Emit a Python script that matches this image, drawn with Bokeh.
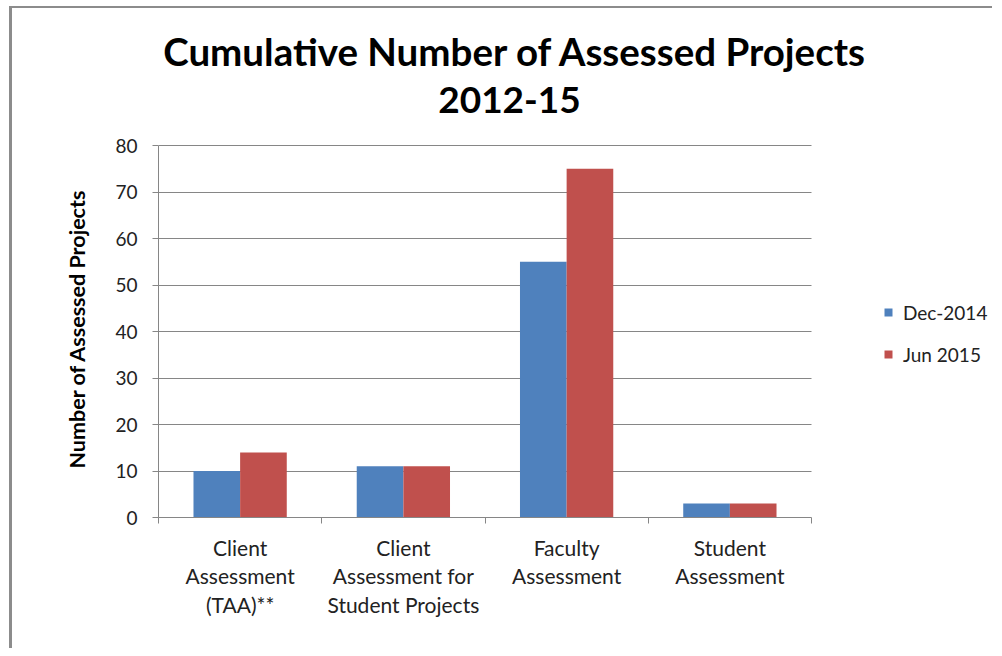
from bokeh.plotting import figure
from bokeh.layouts import column
from bokeh.models import ColumnDataSource, FixedTicker, Range1d, Legend, LegendItem, Label, Title
from bokeh.transform import dodge
from bokeh.embed import file_html
from bokeh.resources import INLINE

categories = ["Client\nAssessment\n(TAA)**",
              "Client\nAssessment for\nStudent Projects",
              "Faculty\nAssessment",
              "Student\nAssessment"]
dec_2014 = [10, 11, 55, 3]
jun_2015 = [14, 11, 75, 3]
series_names = ["Dec-2014", "Jun 2015"]
y_ticks = [0, 10, 20, 30, 40, 50, 60, 70, 80]
title_lines = ["Cumulative Number of Assessed Projects", "2012-15"]
y_label = "Number of Assessed Projects"

FONT = "Lato"
BLUE = "#4F81BD"
RED = "#C0504D"
GRID = "#868686"

n = len(categories)
y_max = y_ticks[-1]
xs = [i + 0.5 for i in range(n)]
bounds = [float(i) for i in range(n + 1)]
src = ColumnDataSource(dict(x=xs, dec=dec_2014, jun=jun_2015))

# layout (pixels): the bars' plotting area spans 653 x 372 px
W, H = 992, 648
LEFT, BOTTOM = 158, 131
AREA_W, AREA_H = 653, 372
frame_w = W - LEFT
frame_h = H - BOTTOM
x_end = n * frame_w / AREA_W
y_end = y_max * frame_h / AREA_H

p = figure(width=W, height=H, x_range=Range1d(0, x_end), y_range=Range1d(0, y_end),
           output_backend="svg", toolbar_location=None,
           min_border_left=LEFT, min_border_right=0, min_border_top=0, min_border_bottom=BOTTOM)
p.outline_line_color = None
p.background_fill_alpha = 0
p.border_fill_alpha = 0

p.xgrid.visible = False
g = p.ygrid[0]
if "cross_bounds" in g.properties():
    g.ticker = FixedTicker(ticks=y_ticks)
    g.cross_bounds = (0, n)
    g.grid_line_color = GRID
    g.grid_line_width = 1
else:
    g.visible = False
    p.segment(x0=0, x1=n, y0=y_ticks, y1=y_ticks, line_color=GRID, line_width=1)

bw = 0.2857
r1 = p.vbar(x=dodge("x", -bw / 2, range=p.x_range), top="dec", bottom=0, width=bw,
            source=src, fill_color=BLUE, line_color=None)
r2 = p.vbar(x=dodge("x", bw / 2, range=p.x_range), top="jun", bottom=0, width=bw,
            source=src, fill_color=RED, line_color=None)

ya = p.yaxis[0]
ya.ticker = FixedTicker(ticks=y_ticks)
ya.bounds = (0, y_max)
ya.axis_line_color = GRID
ya.major_tick_line_color = GRID
ya.major_tick_out = 6
ya.major_tick_in = 0
ya.minor_tick_line_color = None
ya.major_label_text_font = FONT
ya.major_label_text_font_size = "19px"
ya.major_label_text_color = "#222222"
ya.major_label_standoff = 15

# y-axis title, placed along the bars' area (which is lower than the frame)
p.add_layout(Title(text=y_label, align="left", offset=49, vertical_align="bottom", standoff=46,
                   text_font=FONT, text_font_size="21.5px", text_font_style="bold",
                   text_color="black"), "left")

xa = p.xaxis[0]
xa.ticker = FixedTicker(ticks=xs, minor_ticks=bounds)
xa.bounds = (0, n)
xa.axis_line_color = GRID
xa.major_tick_line_color = None
xa.major_tick_out = 0
xa.major_tick_in = 0
xa.minor_tick_line_color = GRID
xa.minor_tick_out = 6
xa.minor_tick_in = 0
xa.major_label_overrides = {x: c for x, c in zip(xs, categories)}
xa.major_label_text_font = FONT
xa.major_label_text_font_size = "21px"
xa.major_label_text_color = "#222222"
xa.major_label_text_line_height = 1.15
xa.major_label_standoff = 11

legend = Legend(items=[LegendItem(label=series_names[0], renderers=[r1]),
                       LegendItem(label=series_names[1], renderers=[r2])],
                location=(725, 151), orientation="vertical")
legend.border_line_color = None
legend.background_fill_alpha = 0
legend.padding = 0
legend.margin = 0
legend.glyph_width = 10
legend.glyph_height = 10
legend.label_standoff = 10
legend.label_text_font = FONT
legend.label_text_font_size = "19px"
legend.label_text_color = "#222222"
legend.label_height = 24
legend.spacing = 18
p.add_layout(legend)

for txt, xx, yy, fs in zip(title_lines, [357, 351], [467, 418], ["38.5px", "37px"]):
    p.add_layout(Label(x=xx, y=yy, x_units="screen", y_units="screen", text=txt,
                       text_align="center", text_baseline="middle",
                       text_font=FONT, text_font_size=fs, text_font_style="bold",
                       text_color="black"))

layout = column(p, styles={
    "background-image": "linear-gradient(#8c8c8c, #8c8c8c), linear-gradient(#8c8c8c, #8c8c8c)",
    "background-size": "3px 100%, 100% 2px",
    "background-position": "9px 6px, 9px 6px",
    "background-repeat": "no-repeat",
})

open("out.html", "w").write(file_html(layout, INLINE))
